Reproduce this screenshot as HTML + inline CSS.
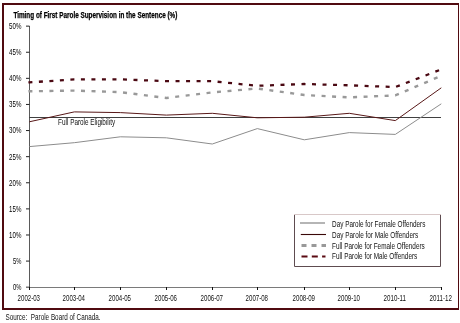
<!DOCTYPE html>
<html><head><meta charset="utf-8"><style>html,body{margin:0;padding:0;background:#fff;width:460px;height:323px;overflow:hidden}svg{display:block;will-change:transform}</style></head>
<body><svg width="460" height="323" viewBox="0 0 460 323">
<rect x="2" y="3" width="457" height="2" fill="#500a10"/>
<rect x="2" y="3" width="2" height="307" fill="#500a10"/>
<rect x="458" y="3" width="1" height="307" fill="#500a10"/>
<rect x="2" y="308" width="457" height="2" fill="#500a10"/>
<text x="13.4" y="18.3" font-family="Liberation Sans, sans-serif" font-size="8.4" font-weight="bold" textLength="164" lengthAdjust="spacingAndGlyphs" fill="#000" stroke="#000" stroke-width="0.25">Timing of First Parole Supervision in the Sentence (%)</text>
<path d="M29.5 26V290" stroke="#5a5a5a" stroke-width="1" fill="none"/>
<path d="M26 287.20H29.5" stroke="#222" stroke-width="1"/>
<text x="13.0" y="290.0" font-family="Liberation Sans, sans-serif" font-size="9.7" fill="#000" textLength="8.4" lengthAdjust="spacingAndGlyphs">0%</text>
<path d="M26 261.09H29.5" stroke="#222" stroke-width="1"/>
<text x="13.0" y="263.9" font-family="Liberation Sans, sans-serif" font-size="9.7" fill="#000" textLength="8.4" lengthAdjust="spacingAndGlyphs">5%</text>
<path d="M26 234.99H29.5" stroke="#222" stroke-width="1"/>
<text x="9.1" y="237.8" font-family="Liberation Sans, sans-serif" font-size="9.7" fill="#000" textLength="12.3" lengthAdjust="spacingAndGlyphs">10%</text>
<path d="M26 208.88H29.5" stroke="#222" stroke-width="1"/>
<text x="9.1" y="211.7" font-family="Liberation Sans, sans-serif" font-size="9.7" fill="#000" textLength="12.3" lengthAdjust="spacingAndGlyphs">15%</text>
<path d="M26 182.77H29.5" stroke="#222" stroke-width="1"/>
<text x="9.1" y="185.6" font-family="Liberation Sans, sans-serif" font-size="9.7" fill="#000" textLength="12.3" lengthAdjust="spacingAndGlyphs">20%</text>
<path d="M26 156.66H29.5" stroke="#222" stroke-width="1"/>
<text x="9.1" y="159.5" font-family="Liberation Sans, sans-serif" font-size="9.7" fill="#000" textLength="12.3" lengthAdjust="spacingAndGlyphs">25%</text>
<path d="M26 130.56H29.5" stroke="#222" stroke-width="1"/>
<text x="9.1" y="133.4" font-family="Liberation Sans, sans-serif" font-size="9.7" fill="#000" textLength="12.3" lengthAdjust="spacingAndGlyphs">30%</text>
<path d="M26 104.45H29.5" stroke="#222" stroke-width="1"/>
<text x="9.1" y="107.3" font-family="Liberation Sans, sans-serif" font-size="9.7" fill="#000" textLength="12.3" lengthAdjust="spacingAndGlyphs">35%</text>
<path d="M26 78.34H29.5" stroke="#222" stroke-width="1"/>
<text x="9.1" y="81.1" font-family="Liberation Sans, sans-serif" font-size="9.7" fill="#000" textLength="12.3" lengthAdjust="spacingAndGlyphs">40%</text>
<path d="M26 52.24H29.5" stroke="#222" stroke-width="1"/>
<text x="9.1" y="55.0" font-family="Liberation Sans, sans-serif" font-size="9.7" fill="#000" textLength="12.3" lengthAdjust="spacingAndGlyphs">45%</text>
<path d="M26 26.13H29.5" stroke="#222" stroke-width="1"/>
<text x="9.1" y="28.9" font-family="Liberation Sans, sans-serif" font-size="9.7" fill="#000" textLength="12.3" lengthAdjust="spacingAndGlyphs">50%</text>
<path d="M26 287.5H441.5" stroke="#7a7a7a" stroke-width="1"/>
<path d="M29.5 287V290" stroke="#111" stroke-width="1"/>
<text x="17.6" y="300.9" font-family="Liberation Sans, sans-serif" font-size="9.0" fill="#111" textLength="22.4" lengthAdjust="spacingAndGlyphs">2002-03</text>
<path d="M74.5 287V290" stroke="#111" stroke-width="1"/>
<text x="62.6" y="300.9" font-family="Liberation Sans, sans-serif" font-size="9.0" fill="#111" textLength="22.4" lengthAdjust="spacingAndGlyphs">2003-04</text>
<path d="M120.5 287V290" stroke="#111" stroke-width="1"/>
<text x="108.6" y="300.9" font-family="Liberation Sans, sans-serif" font-size="9.0" fill="#111" textLength="22.4" lengthAdjust="spacingAndGlyphs">2004-05</text>
<path d="M166.5 287V290" stroke="#111" stroke-width="1"/>
<text x="154.6" y="300.9" font-family="Liberation Sans, sans-serif" font-size="9.0" fill="#111" textLength="22.4" lengthAdjust="spacingAndGlyphs">2005-06</text>
<path d="M212.5 287V290" stroke="#111" stroke-width="1"/>
<text x="200.6" y="300.9" font-family="Liberation Sans, sans-serif" font-size="9.0" fill="#111" textLength="22.4" lengthAdjust="spacingAndGlyphs">2006-07</text>
<path d="M257.5 287V290" stroke="#111" stroke-width="1"/>
<text x="245.6" y="300.9" font-family="Liberation Sans, sans-serif" font-size="9.0" fill="#111" textLength="22.4" lengthAdjust="spacingAndGlyphs">2007-08</text>
<path d="M304.5 287V290" stroke="#111" stroke-width="1"/>
<text x="292.6" y="300.9" font-family="Liberation Sans, sans-serif" font-size="9.0" fill="#111" textLength="22.4" lengthAdjust="spacingAndGlyphs">2008-09</text>
<path d="M349.5 287V290" stroke="#111" stroke-width="1"/>
<text x="337.6" y="300.9" font-family="Liberation Sans, sans-serif" font-size="9.0" fill="#111" textLength="22.4" lengthAdjust="spacingAndGlyphs">2009-10</text>
<path d="M395.5 287V290" stroke="#111" stroke-width="1"/>
<text x="383.6" y="300.9" font-family="Liberation Sans, sans-serif" font-size="9.0" fill="#111" textLength="22.4" lengthAdjust="spacingAndGlyphs">2010-11</text>
<path d="M441.5 287V290" stroke="#111" stroke-width="1"/>
<text x="429.6" y="300.9" font-family="Liberation Sans, sans-serif" font-size="9.0" fill="#111" textLength="22.4" lengthAdjust="spacingAndGlyphs">2011-12</text>
<path d="M29 117.5H441" stroke="#404040" stroke-width="1"/>
<text x="58.1" y="125.0" font-family="Liberation Sans, sans-serif" font-size="8.4" fill="#111" textLength="57" lengthAdjust="spacingAndGlyphs">Full Parole Eligibility</text>
<polyline points="29.3,146.6 74.3,142.7 120.3,136.8 166.3,137.8 212.3,144.0 257.3,128.6 304.3,139.8 349.3,132.6 395.3,134.4 441.3,103.8" fill="none" stroke="#8c8c8c" stroke-width="1"/>
<polyline points="29.3,121.8 74.3,111.9 120.3,112.6 166.3,115.1 212.3,113.3 257.3,117.8 304.3,117.2 349.3,113.3 395.3,120.6 441.3,87.8" fill="none" stroke="#581818" stroke-width="1"/>
<polyline points="28.4,91.31 29.3,91.3 74.3,90.6 120.3,92.1 166.3,98.0 212.3,92.4 257.3,88.5 304.3,95.0 349.3,97.4 395.3,95.4 441.3,75.8" fill="none" stroke="#999" stroke-width="2.4" stroke-dasharray="4 6.52"/>
<polyline points="28.4,82.45 29.3,82.4 74.3,79.4 120.3,79.3 166.3,81.2 212.3,81.2 257.3,85.8 304.3,84.0 349.3,85.3 395.3,87.1 441.3,69.4" fill="none" stroke="#4a0812" stroke-width="2.3" stroke-dasharray="4 6.52"/>
<path d="M294.5 214.5V266.5H440.5V214.5" fill="none" stroke="#5e4c50" stroke-width="1"/>
<rect x="294" y="214" width="147" height="1" fill="#d8c8c8"/>
<path d="M300 223H325" stroke="#a8a8a8" stroke-width="1.7"/>
<path d="M300.8 234.5H326" stroke="#3a0808" stroke-width="1.1"/>
<path d="M301.5 245.5H326" stroke="#999" stroke-width="2.8" stroke-dasharray="5 5"/>
<path d="M301.5 256.5H325.5" stroke="#5a0a12" stroke-width="2.1" stroke-dasharray="6 4.3"/>
<text x="332.1" y="226.6" font-family="Liberation Sans, sans-serif" font-size="8.2" fill="#111" textLength="93.3" lengthAdjust="spacingAndGlyphs">Day Parole for Female Offenders</text>
<text x="332.1" y="237.5" font-family="Liberation Sans, sans-serif" font-size="8.2" fill="#111" textLength="86.2" lengthAdjust="spacingAndGlyphs">Day Parole for Male Offenders</text>
<text x="332.1" y="248.8" font-family="Liberation Sans, sans-serif" font-size="8.2" fill="#111" textLength="92.7" lengthAdjust="spacingAndGlyphs">Full Parole for Female Offenders</text>
<text x="332.1" y="259.3" font-family="Liberation Sans, sans-serif" font-size="8.2" fill="#111" textLength="85.2" lengthAdjust="spacingAndGlyphs">Full Parole for Male Offenders</text>
<text x="5.5" y="320" font-family="Liberation Sans, sans-serif" font-size="8.3" fill="#111" textLength="95" lengthAdjust="spacingAndGlyphs" xml:space="preserve">Source:  Parole Board of Canada.</text>
</svg></body></html>
